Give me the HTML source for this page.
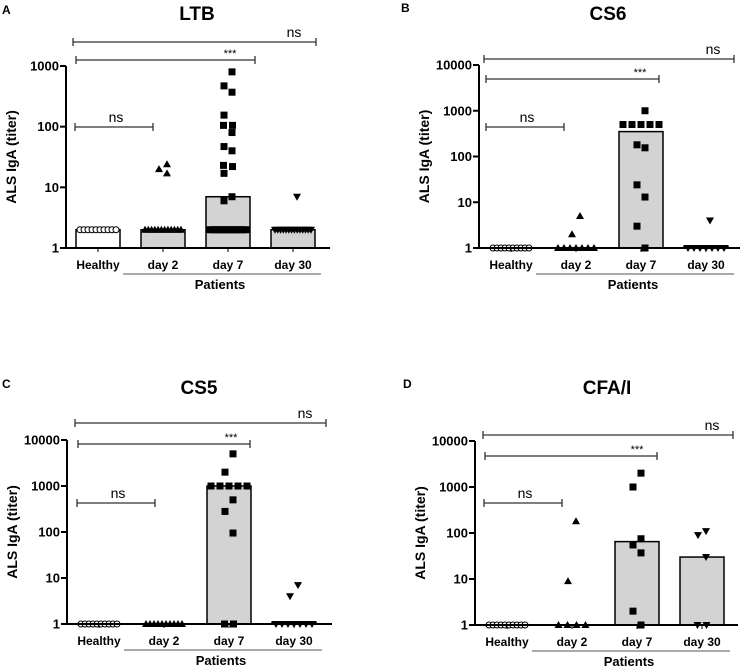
<!DOCTYPE html>
<html><head><meta charset="utf-8">
<style>
html,body{margin:0;padding:0;background:#fff;}
svg{display:block;font-family:"Liberation Sans",Arial,sans-serif;}
</style></head>
<body>
<svg id="fig" width="742" height="667" viewBox="0 0 742 667" xmlns="http://www.w3.org/2000/svg"></svg>
<script>
const categories = ["Healthy","day 2","day 7","day 30"];
const markers = ["circle","triangle","square","invtriangle"];
// Panel A - LTB
const ltbBars = [2, 2, 7, 2];
const ltbHealthy = [2,2,2,2,2,2,2,2,2,2];
const ltbDay2 = [24,20,17,2,2,2,2,2,2,2,2,2,2,2,2];
const ltbDay7 = [800,470,370,155,105,105,80,47,40,23,22,17,7,6,2,2,2,2,2,2,2,2,2,2,2,2,2,2];
const ltbDay30 = [7,2,2,2,2,2,2,2,2,2,2,2,2,2,2];
// Panel B - CS6
const cs6Bars = [1, 1, 350, 1.1];
const cs6Healthy = [1,1,1,1,1,1,1,1,1,1];
const cs6Day2 = [5,2,1,1,1,1,1,1,1];
const cs6Day7 = [1000,500,500,500,500,500,180,155,24,13,3,1];
const cs6Day30 = [4,1,1,1,1,1,1,1];
// Panel C - CS5
const cs5Bars = [1, 1, 1000, 1.1];
const cs5Healthy = [1,1,1,1,1,1,1,1,1,1];
const cs5Day2 = [1,1,1,1,1,1,1,1,1,1];
const cs5Day7 = [5000,2000,1000,1000,1000,1000,1000,500,280,95,1,1];
const cs5Day30 = [7,4,1,1,1,1,1,1,1];
// Panel D - CFA/I
const cfaBars = [1, 1, 65, 30];
const cfaHealthy = [1,1,1,1,1,1,1,1,1,1];
const cfaDay2 = [180,9,1,1,1,1];
const cfaDay7 = [2000,1000,75,55,37,2,1];
const cfaDay30 = [110,90,30,1,1];
const yTicksA = ["1","10","100","1000"];
const yTicksB = ["1","10","100","1000","10000"];

const NS="http://www.w3.org/2000/svg";
const svg=document.getElementById('fig');
function mk(tag,attrs,parent,text){
  const e=document.createElementNS(NS,tag);
  for(const k in attrs) e.setAttribute(k,attrs[k]);
  if(text!==undefined) e.textContent=text;
  (parent||svg).appendChild(e);
  return e;
}

function panel(cfg){
  const g=mk('g',{});
  
  
  const nDec=cfg.ticks.length-1;
  const yScale=v=>cfg.yBot-(Math.log10(v))/nDec*(cfg.yBot-cfg.yTop);
  const xC=i=>cfg.ax+32+65*i;
  const L=mk('text',{x:cfg.letterX,y:cfg.letterY,'font-size':12,'font-weight':'bold'},g,cfg.letter);
  
  
  const T=mk('text',{x:cfg.titleX,y:cfg.titleY,'font-size':19,'font-weight':'bold','text-anchor':'middle'},g,cfg.title);
  
  
  const yt=mk('text',{x:0,y:0,'font-size':14,'font-weight':'bold','text-anchor':'middle',transform:`translate(${cfg.ax-50},${(cfg.yTop+cfg.yBot)/2}) rotate(-90)`},g,'ALS IgA (titer)');
  
  
  cfg.bars.forEach((v,i)=>{
    const y=yScale(v);
    const r=mk('rect',{x:xC(i)-22,y:y,width:44,height:cfg.yBot-y,fill:i===0?'#fff':'#d3d3d3',stroke:'#000','stroke-width':1.5},g);
    
    
  });
  cfg.series.forEach((arr,i)=>{
    const groups={};
    arr.forEach(v=>{const k=Math.round(Math.log10(v)*12);groups[k]=(groups[k]||0)+1;});
    const seen={};
    let single=0;
    arr.forEach(v=>{
      const k=Math.round(Math.log10(v)*12);
      const n=groups[k];const idx=seen[k]=(seen[k]||0);seen[k]++;
      const sp=n>1?Math.min(9,36/(n-1)):0;
      let off=(idx-(n-1)/2)*sp;
      if(n===1){ off=(single%2===0?1:-1)*4; single++; }
      const x=xC(i)+off;
      const y=yScale(v);
      let m;
      const t=markers[i];
      if(t==='circle') m=mk('circle',{cx:x,cy:y,r:3,fill:'#fff',stroke:'#000','stroke-width':1},g);
      else if(t==='square') m=mk('rect',{x:x-3.5,y:y-3.5,width:7,height:7,fill:'#000'},g);
      else if(t==='triangle') m=mk('polygon',{points:`${x},${y-4} ${x-4},${y+3} ${x+4},${y+3}`,fill:'#000'},g);
      else m=mk('polygon',{points:`${x},${y+4} ${x-4},${y-3} ${x+4},${y-3}`,fill:'#000'},g);
      
      
    });
  });
  const ya=mk('line',{x1:cfg.ax,y1:cfg.yTop,x2:cfg.ax,y2:cfg.yBot,stroke:'#000','stroke-width':2},g);
  
  
  const xa=mk('line',{x1:cfg.ax-5,y1:cfg.yBot,x2:cfg.xEnd,y2:cfg.yBot,stroke:'#000','stroke-width':2},g);
  
  
  cfg.ticks.forEach((t,j)=>{
    const y=yScale(Math.pow(10,j));
    mk('line',{x1:cfg.ax-6,y1:y,x2:cfg.ax,y2:y,stroke:'#000','stroke-width':2},g);
    const tl=mk('text',{x:cfg.ax-7,y:y+4.5,'font-size':13,'font-weight':'bold','text-anchor':'end'},g,t);
    
    
  });
  categories.forEach((c,i)=>{
    mk('line',{x1:xC(i),y1:cfg.yBot,x2:xC(i),y2:cfg.yBot+4,stroke:'#000','stroke-width':1},g);
    const cl=mk('text',{x:xC(i),y:cfg.yBot+21,'font-size':12,'font-weight':'bold','text-anchor':'middle'},g,c);
    
    
  });
  const pl=cfg.yBot+26;
  mk('line',{x1:xC(1)-40,y1:pl,x2:xC(3)+28,y2:pl,stroke:'#555','stroke-width':1},g);
  const pt=mk('text',{x:(xC(1)+xC(3))/2-8,y:pl+15,'font-size':13,'font-weight':'bold','text-anchor':'middle'},g,'Patients');
  
  
  cfg.brackets.forEach(b=>{
    const bg=mk('g',{},g);
    
    
    mk('line',{x1:b[0],y1:b[2],x2:b[1],y2:b[2],stroke:'#333','stroke-width':1.3},bg);
    mk('line',{x1:b[0],y1:b[2]-4,x2:b[0],y2:b[2]+4,stroke:'#333','stroke-width':1.3},bg);
    mk('line',{x1:b[1],y1:b[2]-4,x2:b[1],y2:b[2]+4,stroke:'#333','stroke-width':1.3},bg);
    const stars=b[3]==='***';
    mk('text',{x:b[4],y:stars?b[2]-3:b[2]-5,'font-size':stars?11:14,'text-anchor':'middle'},bg,b[3]);
  });
}

panel({id:'ltb',letter:'A',letterX:2,letterY:14,title:'LTB',titleX:197,titleY:20,ax:66,yTop:66,yBot:248,xEnd:330,
  ticks:yTicksA,bars:ltbBars,series:[ltbHealthy,ltbDay2,ltbDay7,ltbDay30],
  brackets:[[73,316,42,'ns',294],[76,255,60,'***',230],[75,153,127,'ns',116]]});
panel({id:'cs6',letter:'B',letterX:401,letterY:12,title:'CS6',titleX:608,titleY:20,ax:479,yTop:65,yBot:248,xEnd:740,
  ticks:yTicksB,bars:cs6Bars,series:[cs6Healthy,cs6Day2,cs6Day7,cs6Day30],
  brackets:[[484,734,59,'ns',713],[486,659,79,'***',640],[486,564,127,'ns',527]]});
panel({id:'cs5',letter:'C',letterX:2,letterY:388,title:'CS5',titleX:199,titleY:394,ax:67,yTop:440,yBot:624,xEnd:332,
  ticks:yTicksB,bars:cs5Bars,series:[cs5Healthy,cs5Day2,cs5Day7,cs5Day30],
  brackets:[[75,326,423,'ns',305],[78,250,444,'***',231],[77,155,503,'ns',118]]});
panel({id:'cfa',letter:'D',letterX:403,letterY:388,title:'CFA/I',titleX:607,titleY:394,ax:475,yTop:441,yBot:625,xEnd:738,
  ticks:yTicksB,bars:cfaBars,series:[cfaHealthy,cfaDay2,cfaDay7,cfaDay30],
  brackets:[[483,733,435,'ns',712],[485,657,456,'***',637],[484,562,503,'ns',525]]});
</script>
</body></html>
